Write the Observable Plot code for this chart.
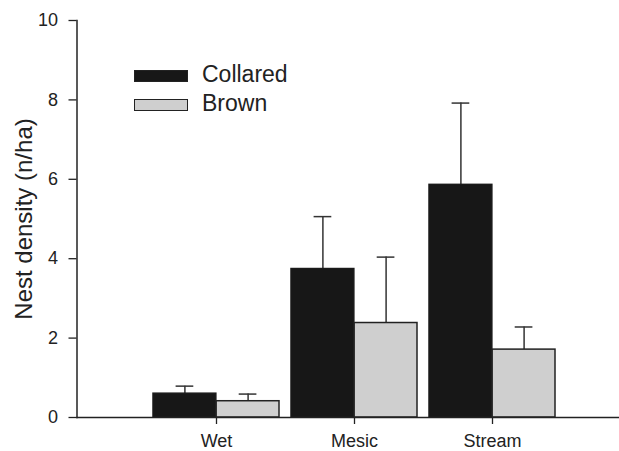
<!DOCTYPE html>
<html>
<head>
<meta charset="utf-8">
<script src="https://cdn.jsdelivr.net/npm/d3@7"></script>
<script src="https://cdn.jsdelivr.net/npm/@observablehq/plot@0.6"></script>
<style>
  html, body { margin: 0; padding: 0; background: white; }
  #wrap { position: relative; width: 619px; height: 451px; font-family: 'Liberation Sans', Arial, sans-serif; color: #222; }
  .lg { position: absolute; left: 134px; width: 54px; height: 12px; box-sizing: border-box; border: 1.5px solid #222; }
  .lt { position: absolute; left: 202px; font-size: 23px; line-height: 1; }
</style>
</head>
<body>
<div id="wrap">
  <div class="lg" style="top:70px; background:#171717;"></div>
  <div class="lt" style="top:63px;">Collared</div>
  <div class="lg" style="top:99px; background:#cfcfcf;"></div>
  <div class="lt" style="top:92px;">Brown</div>
</div>
<script>
const categories = ["Wet", "Mesic", "Stream"];
const collared = [0.6, 3.74, 5.86];
const collaredSE = [0.19, 1.32, 2.06];
const brown = [0.41, 2.38, 1.71];
const brownSE = [0.18, 1.66, 0.57];
const yTicks = [0, 2, 4, 6, 8, 10];
const yLabel = "Nest density (n/ha)";

const cData = categories.map((c, i) => ({cat: c, v: collared[i], top: collared[i] + collaredSE[i]}));
const bData = categories.map((c, i) => ({cat: c, v: brown[i], top: brown[i] + brownSE[i]}));

const half = 63.15;
const chart = Plot.plot({
  width: 619,
  height: 451,
  marginLeft: 76.5,
  marginRight: 0,
  marginTop: 20,
  marginBottom: 34,
  style: {fontFamily: "'Liberation Sans', Arial, sans-serif", fontSize: "18px", color: "#222", background: "transparent", overflow: "visible"},
  x: {domain: categories, range: [151.85, 555.3], paddingInner: 0.089, paddingOuter: 0, axis: null},
  y: {domain: [0, 10], axis: null},
  marks: [
    Plot.ruleX(cData, {x: "cat", y1: "v", y2: "top", dx: -31.6, stroke: "#333", strokeWidth: 1.5}),
    Plot.ruleX(bData, {x: "cat", y1: "v", y2: "top", dx: 31.6, stroke: "#333", strokeWidth: 1.5}),
    Plot.tickY(cData, {x: "cat", y: "top", insetLeft: 22.6, insetRight: 85.7, stroke: "#333", strokeWidth: 1.5}),
    Plot.tickY(bData, {x: "cat", y: "top", insetLeft: 85.7, insetRight: 22.6, stroke: "#333", strokeWidth: 1.5}),
    Plot.barY(cData, {x: "cat", y: "v", insetLeft: 0, insetRight: half, fill: "#171717", stroke: "#1a1a1a", strokeWidth: 1.5}),
    Plot.barY(bData, {x: "cat", y: "v", insetLeft: half, insetRight: 0, fill: "#cfcfcf", stroke: "#222", strokeWidth: 1.5}),
    Plot.axisY({ticks: yTicks, tickSize: 8, tickPadding: 11, fontSize: 18, label: null, strokeWidth: 1.3}),
    Plot.axisX({tickSize: 7, tickPadding: 10, fontSize: 18, label: null, strokeWidth: 1.3}),
    Plot.frame({anchor: "left", stroke: "#222", strokeWidth: 1.5}),
    Plot.frame({anchor: "bottom", stroke: "#222", strokeWidth: 1.5}),
    Plot.text([yLabel], {text: d => d, frameAnchor: "left", textAnchor: "middle", rotate: -90, dx: -52.5, fontSize: 24, fill: "#222"})
  ]
});
chart.style.position = "absolute";
chart.style.left = "0";
chart.style.top = "0";
document.getElementById("wrap").prepend(chart);
</script>
</body>
</html>
